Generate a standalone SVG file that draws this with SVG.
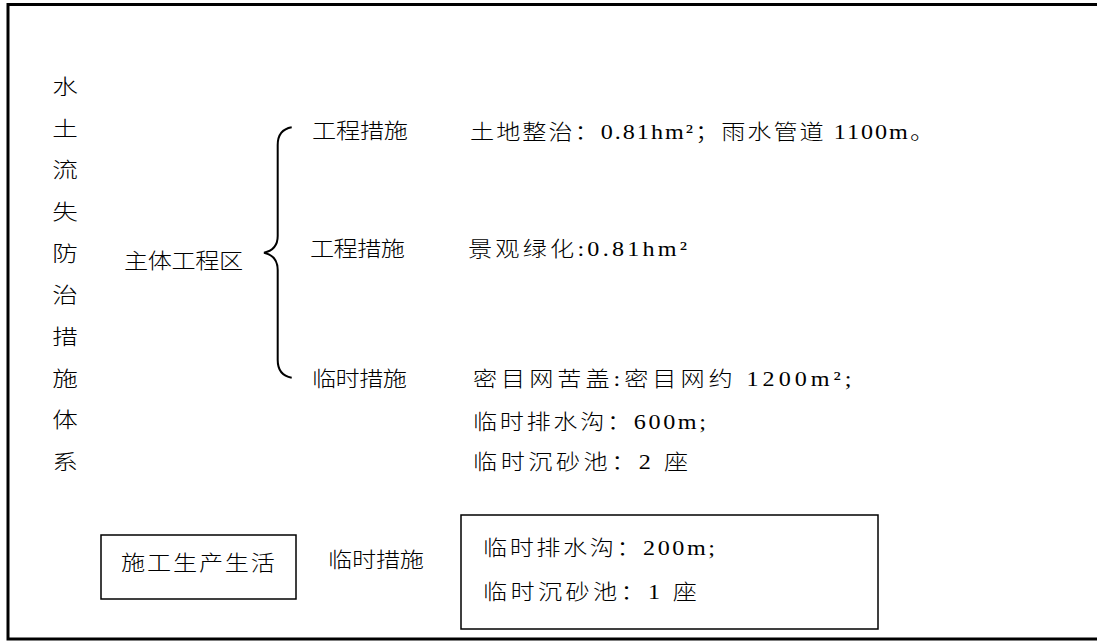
<svg xmlns="http://www.w3.org/2000/svg" width="1097" height="641" viewBox="0 0 1097 641">
<style>
text{font-family:"Liberation Serif","Noto Sans CJK SC",serif;font-size:21px;font-weight:300;fill:#000;}
.v{text-anchor:middle;}
.box{fill:#fff;stroke:#000;stroke-width:1.5;}
.frame{fill:none;stroke:#000;stroke-width:3;}
.brace{fill:none;stroke:#000;stroke-width:2;}
</style>
<rect width="1097" height="641" fill="#fff"/>
<rect class="frame" x="8" y="4.5" width="1100" height="634.5"/>
<g id="title">
<text class="v" transform="translate(65,94) scale(1.22,1)">水</text>
<text class="v" transform="translate(65,136) scale(1.22,1)">土</text>
<text class="v" transform="translate(65,177) scale(1.22,1)">流</text>
<text class="v" transform="translate(65,219) scale(1.22,1)">失</text>
<text class="v" transform="translate(65,261) scale(1.22,1)">防</text>
<text class="v" transform="translate(65,302) scale(1.22,1)">治</text>
<text class="v" transform="translate(65,344) scale(1.22,1)">措</text>
<text class="v" transform="translate(65,386) scale(1.22,1)">施</text>
<text class="v" transform="translate(65,427) scale(1.22,1)">体</text>
<text class="v" transform="translate(65,469) scale(1.22,1)">系</text>
</g>
<g id="main-area">
<text transform="translate(124,268) scale(1.15,1)" textLength="103.5" lengthAdjust="spacing">主体工程区</text>
</g>
<g id="connectors">
<path class="brace" d="M291.7,127.3 C282,129 277.7,135 277.7,145 L277.7,236 C277.7,246 272,251 264,252.7 C272,254.5 277.7,260 277.7,270 L277.7,360 C277.7,370 282,376 291.7,377.7"/>
</g>
<g id="m1">
<text transform="translate(312,138) scale(1.15,1)" textLength="83.5" lengthAdjust="spacing">工程措施</text>
<text transform="translate(470,139) scale(1.15,1)" textLength="403.5" lengthAdjust="spacing">土地整治：0.81hm²；雨水管道 1100m。</text>
</g>
<g id="m2">
<text transform="translate(310,256) scale(1.15,1)" textLength="82.6" lengthAdjust="spacing">工程措施</text>
<text transform="translate(468,256) scale(1.15,1)" textLength="190.4" lengthAdjust="spacing">景观绿化:0.81hm²</text>
</g>
<g id="m3">
<text transform="translate(312,386) scale(1.15,1)" textLength="82.6" lengthAdjust="spacing">临时措施</text>
<text transform="translate(473,386) scale(1.15,1)" textLength="329" lengthAdjust="spacing">密目网苦盖:密目网约 1200m²;</text>
<text transform="translate(473,429) scale(1.15,1)" textLength="202.6" lengthAdjust="spacing">临时排水沟：600m;</text>
<text transform="translate(473,469) scale(1.15,1)" textLength="187" lengthAdjust="spacing">临时沉砂池：2 座</text>
</g>
<g id="construction">
<rect class="box" x="101" y="535" width="195" height="64"/>
<text transform="translate(121,570) scale(1.15,1)" textLength="133.9" lengthAdjust="spacing">施工生产生活</text>
</g>
<g id="construction-measure">
<text transform="translate(328,567) scale(1.15,1)" textLength="83.5" lengthAdjust="spacing">临时措施</text>
</g>
<g id="construction-detail">
<rect class="box" x="461" y="515" width="417" height="114"/>
<text transform="translate(483,555) scale(1.15,1)" textLength="201.7" lengthAdjust="spacing">临时排水沟：200m;</text>
<text transform="translate(483,599) scale(1.15,1)" textLength="186.1" lengthAdjust="spacing">临时沉砂池：1 座</text>
</g>
</svg>
